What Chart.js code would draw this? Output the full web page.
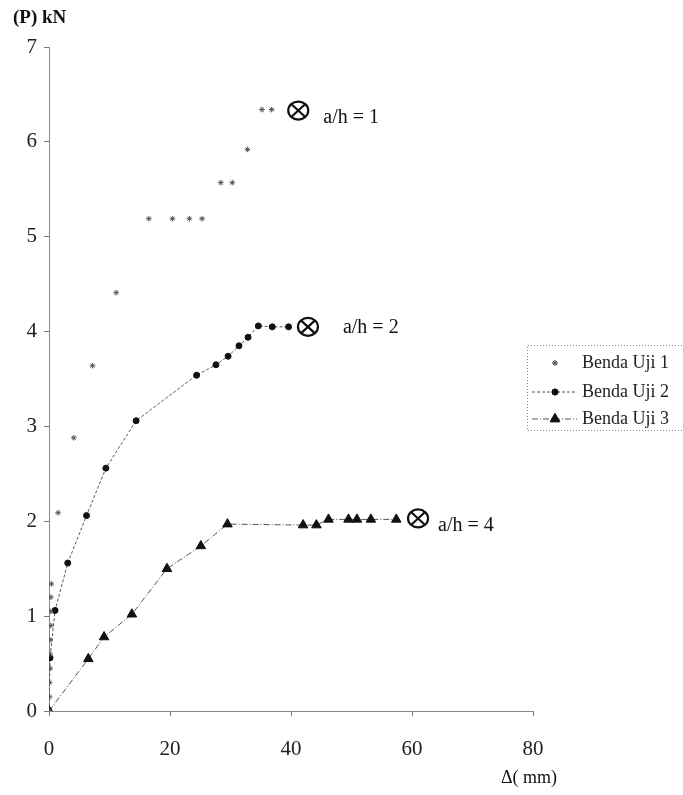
<!DOCTYPE html>
<html lang="id">
<head>
  <meta charset="UTF-8" />
  <title>Beban - Lendutan</title>
  <script src="https://cdn.jsdelivr.net/npm/chart.js@4.4.0/dist/chart.umd.min.js"></script>
  <style>
    body { margin: 0; background: #fff; }
    #wrap { position: relative; width: 683px; height: 795px; }
    .lbl { position: absolute; font-family: "Liberation Serif", serif; color: #111; white-space: nowrap; }
    #ytitle { left: 13px; top: 6px; font-size: 19px; font-weight: bold; }
    #xtitle { left: 501px; top: 767px; font-size: 18px; }
  </style>
</head>
<body>
<div id="wrap">
  <canvas id="chart" width="683" height="795"></canvas>
  <div class="lbl" id="ytitle">(P) kN</div>
  <div class="lbl" id="xtitle">Δ( mm)</div>
</div>
<script>
// Benda Uji 1 (a/h = 1)
const uji1X = [0, 0.1, 0.1, 0.2, 0.2, 0.2, 0.3, 0.3, 0.3, 0.4, 1.5, 4.1, 7.2, 11.1, 16.5, 20.4, 23.2, 25.3, 28.4, 30.3, 32.8, 35.2, 36.8];
const uji1Y = [0, 0.15, 0.3, 0.45, 0.6, 0.75, 0.9, 1.05, 1.2, 1.34, 2.09, 2.88, 3.64, 4.41, 5.19, 5.19, 5.19, 5.19, 5.57, 5.57, 5.92, 6.34, 6.34];
// Benda Uji 2 (a/h = 2)
const uji2X = [0, 0.17, 1.0, 3.1, 6.2, 9.4, 14.4, 24.4, 27.6, 29.6, 31.4, 32.9, 34.6, 36.9, 39.6];
const uji2Y = [0, 0.56, 1.06, 1.56, 2.06, 2.56, 3.06, 3.54, 3.65, 3.74, 3.85, 3.94, 4.06, 4.05, 4.05];
// Benda Uji 3 (a/h = 4)
const uji3X = [0, 6.5, 9.1, 13.7, 19.5, 25.1, 29.5, 42.0, 44.2, 46.2, 49.5, 50.9, 53.2, 57.4];
const uji3Y = [0, 0.55, 0.78, 1.02, 1.50, 1.74, 1.97, 1.96, 1.96, 2.02, 2.02, 2.02, 2.02, 2.02];
// failure marks (⊗) and their labels
const failX = [41.2, 42.8, 61.0];
const failY = [6.33, 4.05, 2.03];
const failText = ['a/h = 1', 'a/h = 2', 'a/h = 4'];
const seriesNames = ['Benda Uji 1', 'Benda Uji 2', 'Benda Uji 3'];
const xTicks = [0, 20, 40, 60, 80];

const pts = (xs, ys) => xs.map((x, i) => ({ x: x, y: ys[i] }));
const serif = '"Liberation Serif", "Times New Roman", serif';

const datasets = [
  {
    label: seriesNames[0], data: pts(uji1X, uji1Y), showLine: false,
    pointStyle: 'star', pointRadius: 2.8, borderColor: '#555', backgroundColor: '#555', borderWidth: 1
  },
  {
    label: seriesNames[1], data: pts(uji2X, uji2Y), showLine: true,
    borderColor: '#555', borderWidth: 1, borderDash: [3, 2],
    pointStyle: 'circle', pointRadius: 3, pointBackgroundColor: '#111', pointBorderColor: '#111'
  },
  {
    label: seriesNames[2], data: pts(uji3X, uji3Y), showLine: true,
    borderColor: '#555', borderWidth: 1, borderDash: [6, 2, 1, 2],
    pointStyle: 'triangle', pointRadius: 5.5, pointBackgroundColor: '#111', pointBorderColor: '#111'
  }
];

// draws the ⊗ marks, their texts and the legend box
const extras = {
  id: 'extras',
  afterDatasetsDraw(chart) {
    const ctx = chart.ctx, sx = chart.scales.x, sy = chart.scales.y;
    const offs = [[25, 7], [35, 1], [20, 7]];
    ctx.save();
    failX.forEach((fx, i) => {
      const px = sx.getPixelForValue(fx), py = sy.getPixelForValue(failY[i]);
      ctx.strokeStyle = '#111';
      ctx.lineWidth = 2.2;
      ctx.beginPath();
      ctx.ellipse(px, py, 10, 9, 0, 0, Math.PI * 2);
      ctx.stroke();
      ctx.beginPath();
      ctx.moveTo(px - 6.5, py - 6); ctx.lineTo(px + 6.5, py + 6);
      ctx.moveTo(px + 6.5, py - 6); ctx.lineTo(px - 6.5, py + 6);
      ctx.stroke();
      ctx.fillStyle = '#111';
      ctx.font = '20px ' + serif;
      ctx.textBaseline = 'middle';
      ctx.fillText(failText[i], px + offs[i][0], py + offs[i][1]);
    });

    // legend (box runs off the right edge, as in the scan)
    ctx.setLineDash([1, 2]);
    ctx.strokeStyle = '#888';
    ctx.lineWidth = 1;
    ctx.beginPath();
    ctx.moveTo(700, 345.5); ctx.lineTo(527.5, 345.5); ctx.lineTo(527.5, 430.5); ctx.lineTo(700, 430.5);
    ctx.stroke();
    const rows = [363, 392, 419];
    rows.forEach((ry, i) => {
      const ds = datasets[i];
      if (ds.showLine) {
        ctx.setLineDash(ds.borderDash);
        ctx.strokeStyle = ds.borderColor;
        ctx.beginPath(); ctx.moveTo(532, ry); ctx.lineTo(577, ry); ctx.stroke();
      }
      ctx.setLineDash([]);
      Chart.helpers.drawPoint(ctx, {
        pointStyle: ds.pointStyle, radius: ds.pointRadius, borderWidth: 1
      }, 555, ry);
      ctx.fillStyle = ds.pointBackgroundColor || ds.backgroundColor;
      ctx.strokeStyle = ds.pointBorderColor || ds.borderColor;
      ctx.fill(); ctx.stroke();
      ctx.fillStyle = '#222';
      ctx.font = '18px ' + serif;
      ctx.textBaseline = 'middle';
      ctx.fillText(seriesNames[i], 582, ry);
    });
    ctx.restore();
  }
};

new Chart(document.getElementById('chart'), {
  type: 'scatter',
  data: { datasets: datasets },
  options: {
    responsive: false,
    animation: false,
    layout: { padding: { top: 47, right: 150, left: 0, bottom: 0 } },
    plugins: { legend: { display: false }, tooltip: { enabled: false } },
    scales: {
      x: {
        type: 'linear', min: 0, max: 80,
        afterFit: s => { s.height = 84; },
        afterBuildTicks: s => { s.ticks = xTicks.map(v => ({ value: v })); },
        grid: { drawOnChartArea: false, tickLength: 5, color: '#777' },
        border: { color: '#888', dash: [6, 2, 1, 2] },
        ticks: { padding: 21, color: '#222', font: { family: serif, size: 21 } }
      },
      y: {
        type: 'linear', min: 0, max: 7,
        afterFit: s => { s.width = 49; },
        grid: { drawOnChartArea: false, tickLength: 5, color: '#777' },
        border: { color: '#888', dash: [4, 2, 1, 2] },
        ticks: { stepSize: 1, padding: 7, color: '#222', font: { family: serif, size: 21 } }
      }
    }
  },
  plugins: [extras]
});
</script>
</body>
</html>
